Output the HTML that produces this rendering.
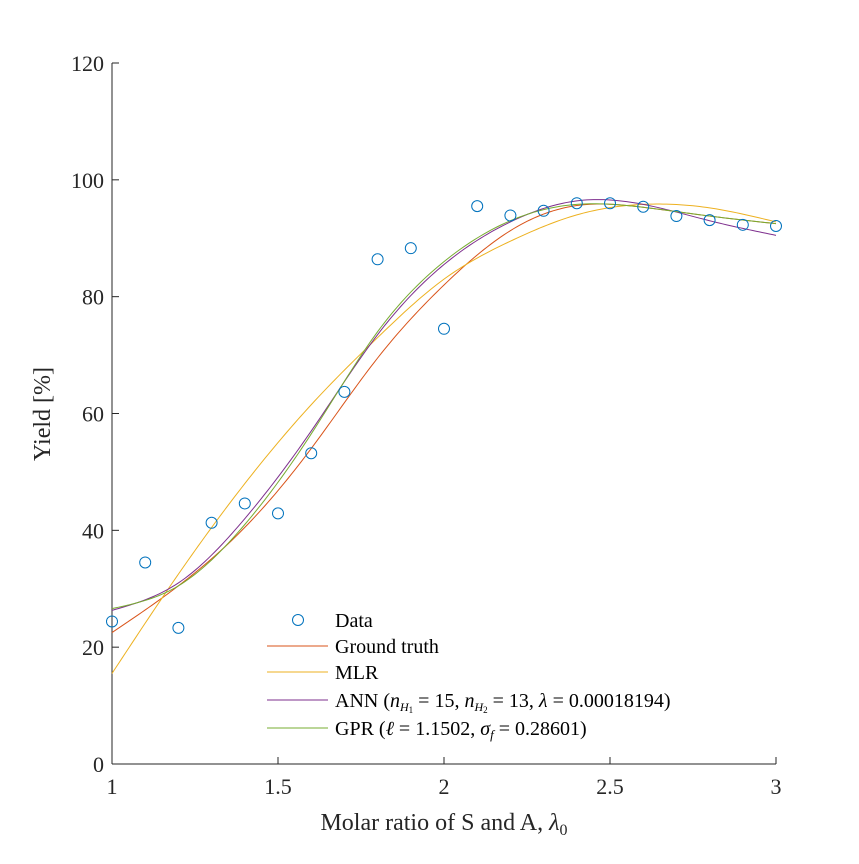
<!DOCTYPE html>
<html><head><meta charset="utf-8"><style>
body{margin:0;background:#fff}
svg{font-family:"Liberation Serif",serif}
</style></head><body>
<svg id="chart" width="859" height="859" viewBox="0 0 859 859">
<rect width="859" height="859" fill="#fff"/>
<g id="axes"></g>
<g id="series"></g>
<g id="legend"></g>
</svg>
<script>
const dataX=[1,1.1,1.2,1.3,1.4,1.5,1.6,1.7,1.8,1.9,2.0,2.1,2.2,2.3,2.4,2.5,2.6,2.7,2.8,2.9,3.0];
const dataY=[24.4,34.5,23.3,41.3,44.6,42.9,53.2,63.7,86.4,88.3,74.5,95.5,93.9,94.7,96,96,95.4,93.8,93.1,92.3,92.1];
const curveX=[1,1.2,1.4,1.6,1.8,2.0,2.2,2.4,2.6,2.8,3.0];
const groundTruth=[22.5,30.5,40.5,54,69.5,82,91.3,95.6,95.3,93.8,92.5];
const mlr=[15.5,32.5,48,61.5,73,83,89.5,94,95.8,95.2,92.8];
const ann=[26.3,31,42,57,73.5,85.5,92.8,96.4,95.8,93,90.5];
const gpr=[26.6,30.5,41,56.5,74,86,93,95.8,95.3,93.8,92.5];
const xTicks=[1,1.5,2,2.5,3];
const xTickLabels=["1","1.5","2","2.5","3"];
const yTicks=[0,20,40,60,80,100,120];
const yTickLabels=["0","20","40","60","80","100","120"];

const NS="http://www.w3.org/2000/svg";
const X0=112,X1=776,Y0=764,Y1=63;
const sx=v=>X0+(v-1)/2*(X1-X0);
const sy=v=>Y0-v/120*(Y0-Y1);
function mk(tag,attrs,parent){const e=document.createElementNS(NS,tag);for(const k in attrs)e.setAttribute(k,attrs[k]);parent.appendChild(e);return e;}
const axes=document.getElementById('axes');
let a=mk('line',{x1:X0,y1:Y0,x2:X1,y2:Y0,stroke:'#262626','stroke-width':1},axes);


a=mk('line',{x1:X0,y1:Y0,x2:X0,y2:Y1,stroke:'#262626','stroke-width':1},axes);


xTicks.forEach((t,i)=>{
  mk('line',{x1:sx(t),y1:Y0,x2:sx(t),y2:Y0-7,stroke:'#262626'},axes);
  const tx=mk('text',{x:sx(t),y:Y0+30,'text-anchor':'middle','font-size':22,fill:'#262626'},axes);
  tx.textContent=xTickLabels[i];
  
  
});
yTicks.forEach((t,i)=>{
  mk('line',{x1:X0,y1:sy(t),x2:X0+7,y2:sy(t),stroke:'#262626'},axes);
  const tx=mk('text',{x:X0-8,y:sy(t)+8,'text-anchor':'end','font-size':22,fill:'#262626'},axes);
  tx.textContent=yTickLabels[i];
  
  
});
let t=mk('text',{x:444,y:830,'text-anchor':'middle','font-size':24,fill:'#262626'},axes);
t.innerHTML='Molar ratio of S and A, <tspan font-style="italic">λ</tspan><tspan font-size="16" dy="5">0</tspan>';


t=mk('text',{x:0,y:0,'text-anchor':'middle','font-size':24,fill:'#262626',transform:'translate(50,414) rotate(-90)'},axes);
t.textContent='Yield [%]';



function spline(xs,ys){
  const n=xs.length,h=[],al=[],l=[1],mu=[0],z=[0],c=new Array(n).fill(0),b=[],d=[];
  for(let i=0;i<n-1;i++)h.push(xs[i+1]-xs[i]);
  for(let i=1;i<n-1;i++)al[i]=3/h[i]*(ys[i+1]-ys[i])-3/h[i-1]*(ys[i]-ys[i-1]);
  for(let i=1;i<n-1;i++){l[i]=2*(xs[i+1]-xs[i-1])-h[i-1]*mu[i-1];mu[i]=h[i]/l[i];z[i]=(al[i]-h[i-1]*z[i-1])/l[i];}
  for(let j=n-2;j>=0;j--){c[j]=(j>0?z[j]:0)-mu[j]*c[j+1];if(j===0)c[0]=0;b[j]=(ys[j+1]-ys[j])/h[j]-h[j]*(c[j+1]+2*c[j])/3;d[j]=(c[j+1]-c[j])/(3*h[j]);}
  return x=>{let i=Math.min(n-2,Math.max(0,xs.findIndex((v,k)=>k<n-1&&x<=xs[k+1])));const dx=x-xs[i];return ys[i]+b[i]*dx+c[i]*dx*dx+d[i]*dx*dx*dx;};
}
const series=document.getElementById('series');
function drawCurve(ys,color,name){
  const f=spline(curveX,ys);let d='';
  for(let k=0;k<=200;k++){const x=1+2*k/200;d+=(k?'L':'M')+sx(x).toFixed(2)+','+sy(f(x)).toFixed(2);}
  const p=mk('path',{d:d,fill:'none',stroke:color,'stroke-width':1},series);
  
  
}
drawCurve(groundTruth,'#D95319','ground-truth-line');
drawCurve(mlr,'#EDB120','mlr-line');
drawCurve(ann,'#7E2F8E','ann-line');
drawCurve(gpr,'#77AC30','gpr-line');
dataX.forEach((x,i)=>{
  const c=mk('circle',{cx:sx(x),cy:sy(dataY[i]),r:5.5,fill:'none',stroke:'#0072BD','stroke-width':1},series);
  
  
});
const lg=document.getElementById('legend');
const items=[['Data','#0072BD',620,'legend-data'],['Ground truth','#D95319',646,'legend-ground-truth'],['MLR','#EDB120',672,'legend-mlr'],
 ['ANN (<tspan font-style="italic">n</tspan><tspan font-size="12" dy="4" font-style="italic">H</tspan><tspan font-size="9" dy="2">1</tspan><tspan dy="-6"> = 15, </tspan><tspan font-style="italic">n</tspan><tspan font-size="12" dy="4" font-style="italic">H</tspan><tspan font-size="9" dy="2">2</tspan><tspan dy="-6"> = 13, </tspan><tspan font-style="italic">λ</tspan> = 0.00018194)','#7E2F8E',700,'legend-ann'],
 ['GPR (<tspan font-style="italic">ℓ</tspan> = 1.1502, <tspan font-style="italic">σ</tspan><tspan font-size="13" dy="4" font-style="italic">f</tspan><tspan dy="-4"> = 0.28601)</tspan>','#77AC30',728,'legend-gpr']];
items.forEach((it,i)=>{
  const g=mk('g',{},lg);
  
  
  if(i===0)mk('circle',{cx:298,cy:it[2],r:5.5,fill:'none',stroke:it[1]},g);
  else mk('line',{x1:267,y1:it[2],x2:328,y2:it[2],stroke:it[1]},g);
  const tx=mk('text',{x:335,y:it[2]+7,'font-size':20,fill:'#000'},g);
  tx.innerHTML=it[0];
});
</script>
</body></html>
